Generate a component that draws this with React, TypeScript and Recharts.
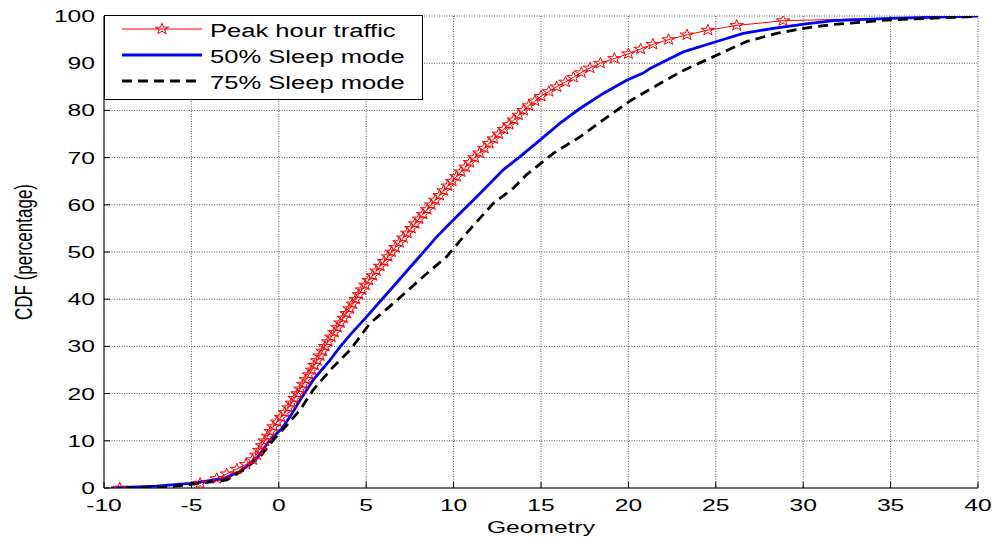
import React from 'react';
import {
    LineChart,
    Line,
    XAxis,
    YAxis,
    CartesianGrid,
    Legend
} from 'recharts';

const xTicks = [-10, -5, 0, 5, 10, 15, 20, 25, 30, 35, 40];
const yTicks = [0, 10, 20, 30, 40, 50, 60, 70, 80, 90, 100];

// Peak hour traffic (one marker per sample)
const peakX = [
    -9.1, -4.5, -3.55, -2.98, -2.4, -1.88, -1.5, -1.28, -1.12, -0.96,
    -0.8, -0.63, -0.47, -0.31, -0.1, 0.12, 0.35, 0.55, 0.73, 0.9,
    1.07, 1.23, 1.4, 1.55, 1.72, 1.88, 2.03, 2.2, 2.36, 2.5,
    2.65, 2.82, 3.0, 3.18, 3.35, 3.52, 3.7, 3.88, 4.05, 4.22,
    4.4, 4.58, 4.75, 4.95, 5.15, 5.37, 5.58, 5.8, 6.02, 6.25,
    6.45, 6.67, 6.9, 7.12, 7.35, 7.58, 7.8, 8.02, 8.25, 8.48,
    8.72, 8.95, 9.2, 9.43, 9.67, 9.92, 10.17, 10.42, 10.68, 10.93,
    11.2, 11.48, 11.75, 12.03, 12.3, 12.58, 12.88, 13.17, 13.45, 13.72,
    14.0, 14.3, 14.65, 15.0, 15.45, 15.9, 16.4, 16.85, 17.3, 17.8,
    18.4, 19.2, 20.0, 20.7, 21.4, 22.3, 23.35, 24.55, 26.2, 28.85,
    40
];
const peakY = [
    0, 1, 2, 3, 4, 5, 6, 7, 8, 9,
    10, 11, 12, 13, 14, 15, 16, 17, 18, 19,
    20, 21, 22, 23, 24, 25, 26, 27, 28, 29,
    30, 31, 32, 33, 34, 35, 36, 37, 38, 39,
    40, 41, 42, 43, 44, 45, 46, 47, 48, 49,
    50, 51, 52, 53, 54, 55, 56, 57, 58, 59,
    60, 61, 62, 63, 64, 65, 66, 67, 68, 69,
    70, 71, 72, 73, 74, 75, 76, 77, 78, 79,
    80, 81, 82, 83, 84, 85, 86, 87, 88, 89,
    90, 91, 92, 93, 94, 95, 96, 97, 98, 99,
    100
];

// 50% sleep mode
const sleep50X = [
    -9.6, -7, -5.08, -3.17, -2.22, -1.26, -0.5, 0.17, 0.64, 1.21,
    1.97, 2.93, 3.5, 4.07, 5.03, 6.36, 7.88, 9.03, 9.98, 11.51,
    12.84, 13.8, 14.94, 16.09, 17.23, 18.56, 19.9, 20.85, 21.24, 22.38,
    23.14, 25.05, 26.57, 28.29, 30.05, 31.72, 34.97, 40
];
const sleep50Y = [
    0, 0.4, 1.0, 2.0, 3.5, 6.3, 10.2, 12.6, 15.1, 18.6,
    22.9, 27.1, 29.9, 32.4, 36.3, 41.9, 48.3, 53.2, 56.8, 62.4,
    67.4, 70.2, 73.7, 77.3, 80.4, 83.6, 86.4, 87.9, 88.9, 91.0,
    92.4, 94.6, 96.3, 97.4, 98.3, 99.0, 99.5, 100
];

// 75% sleep mode
const sleep75X = [
    -8.8, -6.4, -4.5, -2.98, -2.03, -1.08, -0.31, 0.45, 1.21, 1.97,
    3.12, 4.07, 5.22, 6.55, 8.27, 9.6, 10.74, 12.27, 13.41, 14.18,
    15.7, 17.23, 18.56, 20.09, 21.24, 23.05, 25.05, 26.76, 28.48, 30.05,
    31.72, 34.97, 40
];
const sleep75Y = [
    0, 0.2, 1.0, 1.7, 3.8, 6.6, 10.2, 13.3, 16.5, 20.8,
    25.7, 29.2, 34.9, 39.1, 44.8, 49.0, 54.0, 60.3, 63.5, 66.4,
    70.9, 74.4, 78.0, 82.0, 84.5, 88.3, 91.7, 94.6, 96.3, 97.4,
    98.2, 99.2, 99.9
];

const toPoints = (xs: number[], ys: number[]) => xs.map((x, i) => ({ x, y: ys[i] }));

const series = [
    { name: 'Peak hour traffic', color: '#ff0000', width: 1, dash: undefined, data: toPoints(peakX, peakY), star: true },
    { name: '50% Sleep mode', color: '#0000ff', width: 2.8, dash: undefined, data: toPoints(sleep50X, sleep50Y), star: false },
    { name: '75% Sleep mode', color: '#000000', width: 2.8, dash: '10 6', data: toPoints(sleep75X, sleep75Y), star: false }
];

const FONT = '"Liberation Sans", Arial, Helvetica, sans-serif';
const STRETCH = 1.45;

const starPoints = (cx: number, cy: number) => {
    const pts: string[] = [];
    for (let k = 0; k < 10; k++) {
        const a = (-90 + k * 36) * Math.PI / 180;
        const r = k % 2 === 0 ? 5.8 : 2.3;
        pts.push(`${cx + 1.22 * r * Math.cos(a)},${cy + r * Math.sin(a)}`);
    }
    return pts.join(' ');
};

const StarDot = (props: any) => {
    const { cx, cy, index } = props;
    if (index === peakX.length - 1 || cx == null) return <g key={`s-${index}`} />;
    return (
        <polygon
            key={`s-${index}`}
            points={starPoints(cx, cy)}
            fill="none"
            stroke="#ff0000"
            strokeWidth={1}
        />
    );
};

const XTick = (props: any) => {
    const { x, y, payload } = props;
    return (
        <text
            transform={`translate(${x},${y}) scale(${STRETCH},1)`}
            dy={21}
            textAnchor="middle"
            fontSize={17}
            fontFamily={FONT}
            fill="#000"
        >
            {payload.value}
        </text>
    );
};

const YTick = (props: any) => {
    const { x, y, payload } = props;
    return (
        <text
            transform={`translate(${x},${y}) scale(${STRETCH},1)`}
            dy={6}
            textAnchor="end"
            fontSize={17}
            fontFamily={FONT}
            fill="#000"
        >
            {payload.value}
        </text>
    );
};

const XLabel = (props: any) => {
    const { viewBox } = props;
    const cx = viewBox.x + viewBox.width / 2;
    return (
        <text
            transform={`translate(${cx},${viewBox.y + 45}) scale(${STRETCH},1)`}
            textAnchor="middle"
            fontSize={17}
            fontFamily={FONT}
            fill="#000"
        >
            Geometry
        </text>
    );
};

const YLabel = (props: any) => {
    const { viewBox } = props;
    const cy = viewBox.y + viewBox.height / 2;
    return (
        <text
            transform={`translate(${viewBox.x + 32},${cy}) scale(1.4,1) rotate(-90)`}
            textAnchor="middle"
            fontSize={17}
            fontFamily={FONT}
            fill="#000"
        >
            CDF (percentage)
        </text>
    );
};

const LegendBox = () => (
    <div
        style={{
            width: 317,
            height: 82,
            background: '#fff',
            border: '1px solid #000',
            fontFamily: FONT,
            fontSize: 18,
            paddingTop: 1
        }}
    >
        {series.map((s) => (
            <div key={s.name} style={{ position: 'relative', height: 26 }}>
                <svg width={82} height={26} style={{ position: 'absolute', left: 16, top: 0 }}>
                    <line x1={1} x2={81} y1={12} y2={12} stroke={s.color} strokeWidth={s.width} strokeDasharray={s.dash} />
                    {s.star && <polygon points={starPoints(41, 12)} fill="none" stroke="#ff0000" strokeWidth={1} />}
                </svg>
                <span
                    style={{
                        position: 'absolute',
                        left: 105,
                        top: 3,
                        lineHeight: '22px',
                        whiteSpace: 'nowrap',
                        transform: 'scaleX(1.42)',
                        transformOrigin: 'left center'
                    }}
                >
                    {s.name}
                </span>
            </div>
        ))}
    </div>
);

const App = () => {
    return (
        <div style={{ position: 'absolute', left: 0, top: 0, background: '#fff' }}>
            <LineChart width={995} height={539} margin={{ top: 16, right: 17, bottom: 0, left: 0 }}>
                <CartesianGrid stroke="#555" strokeDasharray="1 1.5" />
                <XAxis
                    dataKey="x"
                    type="number"
                    domain={[-10, 40]}
                    ticks={xTicks}
                    height={51}
                    stroke="#000"
                    tickSize={-6}
                    tickMargin={8}
                    tick={<XTick />}
                    label={XLabel}
                    allowDataOverflow
                />
                <XAxis
                    xAxisId="top"
                    orientation="top"
                    type="number"
                    domain={[-10, 40]}
                    ticks={xTicks}
                    height={0}
                    stroke="#000"
                    tickSize={-6}
                    tick={false}
                />
                <YAxis
                    type="number"
                    domain={[0, 100]}
                    ticks={yTicks}
                    width={104}
                    stroke="#000"
                    tickSize={-6}
                    tickMargin={15}
                    tick={<YTick />}
                    label={YLabel}
                    allowDataOverflow
                />
                <YAxis
                    yAxisId="right"
                    orientation="right"
                    type="number"
                    domain={[0, 100]}
                    ticks={yTicks}
                    width={0}
                    stroke="#000"
                    tickSize={-6}
                    tick={false}
                />
                {series.map((s) => (
                    <Line
                        key={s.name}
                        data={s.data}
                        dataKey="y"
                        name={s.name}
                        type="linear"
                        stroke={s.color}
                        strokeWidth={s.width}
                        strokeDasharray={s.dash}
                        dot={s.star ? StarDot : false}
                        activeDot={false}
                        isAnimationActive={false}
                    />
                ))}
                <Legend
                    layout="vertical"
                    align="center"
                    verticalAlign="middle"
                    wrapperStyle={{ left: 104, top: 15, width: 319, height: 84 }}
                    content={LegendBox}
                />
            </LineChart>
        </div>
    );
};

export default App;
